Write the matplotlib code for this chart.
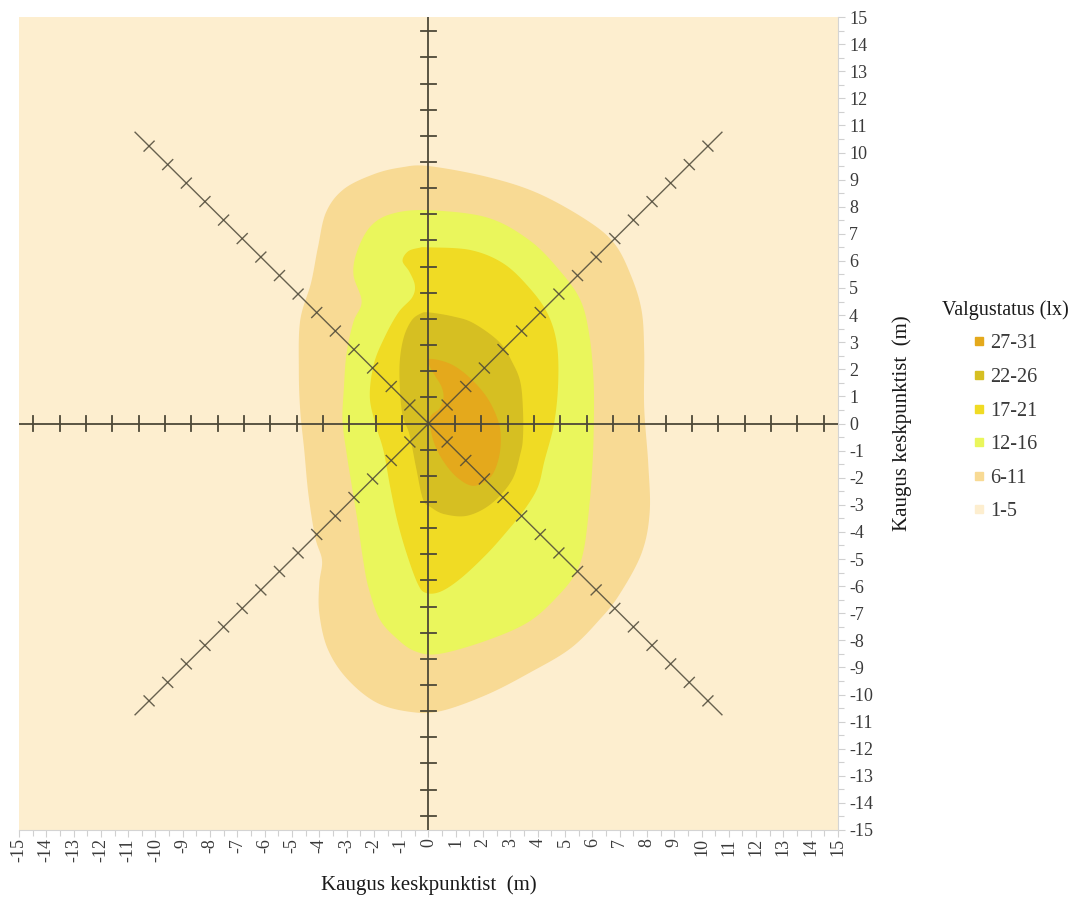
import numpy as np
import matplotlib
matplotlib.use("Agg")
import matplotlib.pyplot as plt
from matplotlib.lines import Line2D

plt.rcParams['font.family'] = ['Liberation Serif', 'DejaVu Serif']

# ---- data: illuminance classes and isolux boundaries (metres from centre) ----
classes = ["27-31", "22-26", "17-21", "12-16", "6-11", "1-5"]
class_colors = ["#E4A91C", "#D6BF22", "#F0DB24", "#EAF65C", "#F8DA94", "#FDEECF"]

iso_6_11 = [(0, 9.5), (2.15, 9.1), (4.0, 8.5), (5.8, 7.5), (6.8, 6.65), (7.4, 5.5),
            (7.8, 4.2), (7.9, 2.7), (7.9, 0.6), (8.05, -1.5), (8.1, -3.3), (7.8, -4.8),
            (7.0, -6.3), (6.3, -7.2), (5.2, -8.3), (3.7, -9.2), (2.15, -10.0), (0.5, -10.6),
            (-0.6, -10.65), (-1.9, -10.3), (-3.0, -9.4), (-3.7, -8.3), (-4.0, -7.0),
            (-4.0, -5.9), (-3.9, -5.05), (-4.15, -4.2), (-4.4, -2.6), (-4.55, -1.0),
            (-4.7, 0.5), (-4.75, 2.0), (-4.7, 3.8), (-4.3, 5.2), (-4.05, 6.5),
            (-3.75, 7.8), (-3.1, 8.65), (-2.0, 9.2), (-1.0, 9.45)]

iso_12_16 = [(0, 7.87), (2.15, 7.6), (3.7, 6.76), (4.8, 5.65), (5.57, 4.54), (5.9, 3.2),
             (6.05, 1.5), (6.05, -0.3), (6.0, -1.6), (5.9, -2.95), (5.7, -4.6), (5.4, -5.5),
             (4.8, -6.3), (3.7, -7.3), (2.15, -8.0), (0.4, -8.5), (-0.5, -8.4),
             (-1.2, -7.9), (-1.8, -7.2), (-2.2, -6.05), (-2.4, -5.0), (-2.6, -3.6),
             (-2.8, -2.36), (-3.0, -1.1), (-3.15, 0.1), (-3.1, 1.3), (-3.0, 2.6),
             (-2.75, 3.75), (-2.45, 4.5), (-2.75, 5.5), (-2.6, 6.4), (-2.1, 7.3), (-1.3, 7.75)]

iso_17_21 = [(0, 6.5), (1.54, 6.4), (2.75, 5.9), (3.7, 5.0), (4.36, 4.06), (4.7, 2.95),
             (4.75, 1.5), (4.6, 0.0), (4.25, -1.37), (4.0, -2.36), (3.5, -3.2), (2.9, -3.95),
             (2.15, -4.8), (1.2, -5.7), (0.45, -6.2), (-0.1, -6.25), (-0.4, -5.9),
             (-0.8, -4.8), (-1.14, -3.6), (-1.4, -2.36), (-1.65, -1.0), (-1.95, 0.0),
             (-2.15, 1.0), (-2.0, 2.2), (-1.6, 3.2), (-1.1, 4.1), (-0.6, 4.65),
             (-0.5, 5.1), (-0.7, 5.6), (-0.95, 6.0), (-0.75, 6.35), (-0.35, 6.48)]

iso_22_26 = [(0, 4.1), (0.9, 3.95), (1.65, 3.7), (2.6, 3.0), (3.1, 2.2), (3.37, 1.5),
             (3.46, 0.5), (3.46, -0.5), (3.37, -1.1), (3.05, -2.1), (2.3, -2.96),
             (1.43, -3.4), (0.6, -3.35), (0.1, -3.1), (-0.2, -2.8), (-0.45, -1.65),
             (-0.7, -0.4), (-0.95, 0.3), (-1.05, 1.33), (-1.05, 2.33), (-0.9, 3.2),
             (-0.62, 3.8), (-0.3, 4.05)]

iso_27_31 = [(0.05, 2.38), (0.8, 2.2), (1.5, 1.7), (2.15, 0.95), (2.55, 0.1), (2.65, -0.6),
             (2.55, -1.37), (2.25, -2.0), (1.65, -2.3), (1.06, -2.0), (0.55, -1.4),
             (0.2, -0.7), (0.05, 0.0), (0.1, 0.3), (0.4, 0.55), (0.55, 0.95), (0.48, 1.35),
             (0.25, 1.75), (0.05, 2.1)]

boundaries = [iso_6_11, iso_12_16, iso_17_21, iso_22_26, iso_27_31]
boundary_colors = [class_colors[4], class_colors[3], class_colors[2], class_colors[1], class_colors[0]]

axis_ticks = list(range(-15, 16))
tick_labels = [str(v) for v in axis_ticks]
cross_step = 0.965    # spacing of the measurement ticks on the overlay cross
cross_count = 15


def smooth_closed(points, sub=24):
    p = np.asarray(points, dtype=float)
    n = len(p)
    t = np.linspace(0, 1, sub, endpoint=False)[:, None]
    out = []
    for i in range(n):
        p0, p1, p2, p3 = p[i - 1], p[i], p[(i + 1) % n], p[(i + 2) % n]
        seg = 0.5 * ((2 * p1) + (-p0 + p2) * t + (2 * p0 - 5 * p1 + 4 * p2 - p3) * t ** 2
                     + (-p0 + 3 * p1 - 3 * p2 + p3) * t ** 3)
        out.append(seg)
    out = np.vstack(out)
    return out[:, 0], out[:, 1]


fig = plt.figure(figsize=(10.75, 9.02), dpi=100)
ax = fig.add_axes([19 / 1075, 1 - 830 / 902, 819 / 1075, 813 / 902])
ax.set_xlim(-15, 15)
ax.set_ylim(-15, 15)
ax.set_facecolor(class_colors[5])

for pts, col in zip(boundaries, boundary_colors):
    xs, ys = smooth_closed(pts)
    ax.fill(xs, ys, color=col, lw=0, zorder=1)

# overlay measurement cross
lc = "#4d4838"
lw = 1.3
half = 0.26
ax.plot([-15, 15], [0, 0], color=lc, lw=lw, zorder=3)
ax.plot([0, 0], [-15, 15], color=lc, lw=lw, zorder=3)
for k in range(-cross_count, cross_count + 1):
    if k == 0:
        continue
    d = k * cross_step
    ax.plot([d, d], [-half, half], color=lc, lw=lw, zorder=3)
    ax.plot([-half, half], [d, d], color=lc, lw=lw, zorder=3)

diag_len = 15.2
for ang in (45, 135, 225, 315):
    ux, uy = np.cos(np.radians(ang)), np.sin(np.radians(ang))
    ax.plot([0, diag_len * ux], [0, diag_len * uy], color=lc, lw=1.0, alpha=0.85, zorder=3)
    px, py = -uy, ux
    for k in range(1, cross_count + 1):
        r = k * cross_step
        cx, cy = r * ux, r * uy
        ax.plot([cx - half * px, cx + half * px], [cy - half * py, cy + half * py],
                color=lc, lw=1.0, alpha=0.85, zorder=3)

# axes styling
for s in ("left", "top"):
    ax.spines[s].set_visible(False)
for s in ("bottom", "right"):
    ax.spines[s].set_color("#d4d4d4")
    ax.spines[s].set_linewidth(0.8)
ax.yaxis.tick_right()
ax.yaxis.set_label_position("right")
ax.set_xticks(axis_ticks)
ax.set_yticks(axis_ticks)
ax.set_xticks(np.arange(-14.5, 15, 1.0), minor=True)
ax.set_yticks(np.arange(-14.5, 15, 1.0), minor=True)
ax.set_xticklabels(tick_labels, rotation=90)
ax.set_yticklabels(tick_labels)
ax.tick_params(which="both", direction="out", length=5, width=0.8, color="#d0d0d0",
               labelcolor="#3a3a3a", labelsize=13, pad=3)
ax.tick_params(axis="x", which="major", pad=1)
ax.tick_params(which="minor", length=4)

ax.set_xlabel("Kaugus keskpunktist  (m)", fontsize=15, color="#1a1a1a", labelpad=9)
ax.set_ylabel("Kaugus keskpunktist  (m)", fontsize=15, color="#1a1a1a", labelpad=14)

handles = [Line2D([], [], marker="s", linestyle="", markersize=6,
                  markerfacecolor=c, markeredgecolor=c) for c in class_colors]
leg = fig.legend(handles, classes, title="Valgustatus (lx)", loc="upper left",
                 bbox_to_anchor=(928 / 1075, 1 - 286 / 902), frameon=False,
                 fontsize=14.5, title_fontsize=14.5, labelspacing=0.72,
                 handlelength=0.5, handletextpad=0.3, borderpad=0.2)
for t in leg.get_texts():
    t.set_color("#3a3a3a")
leg.get_title().set_color("#1a1a1a")

fig.savefig("out.png", dpi=100)
